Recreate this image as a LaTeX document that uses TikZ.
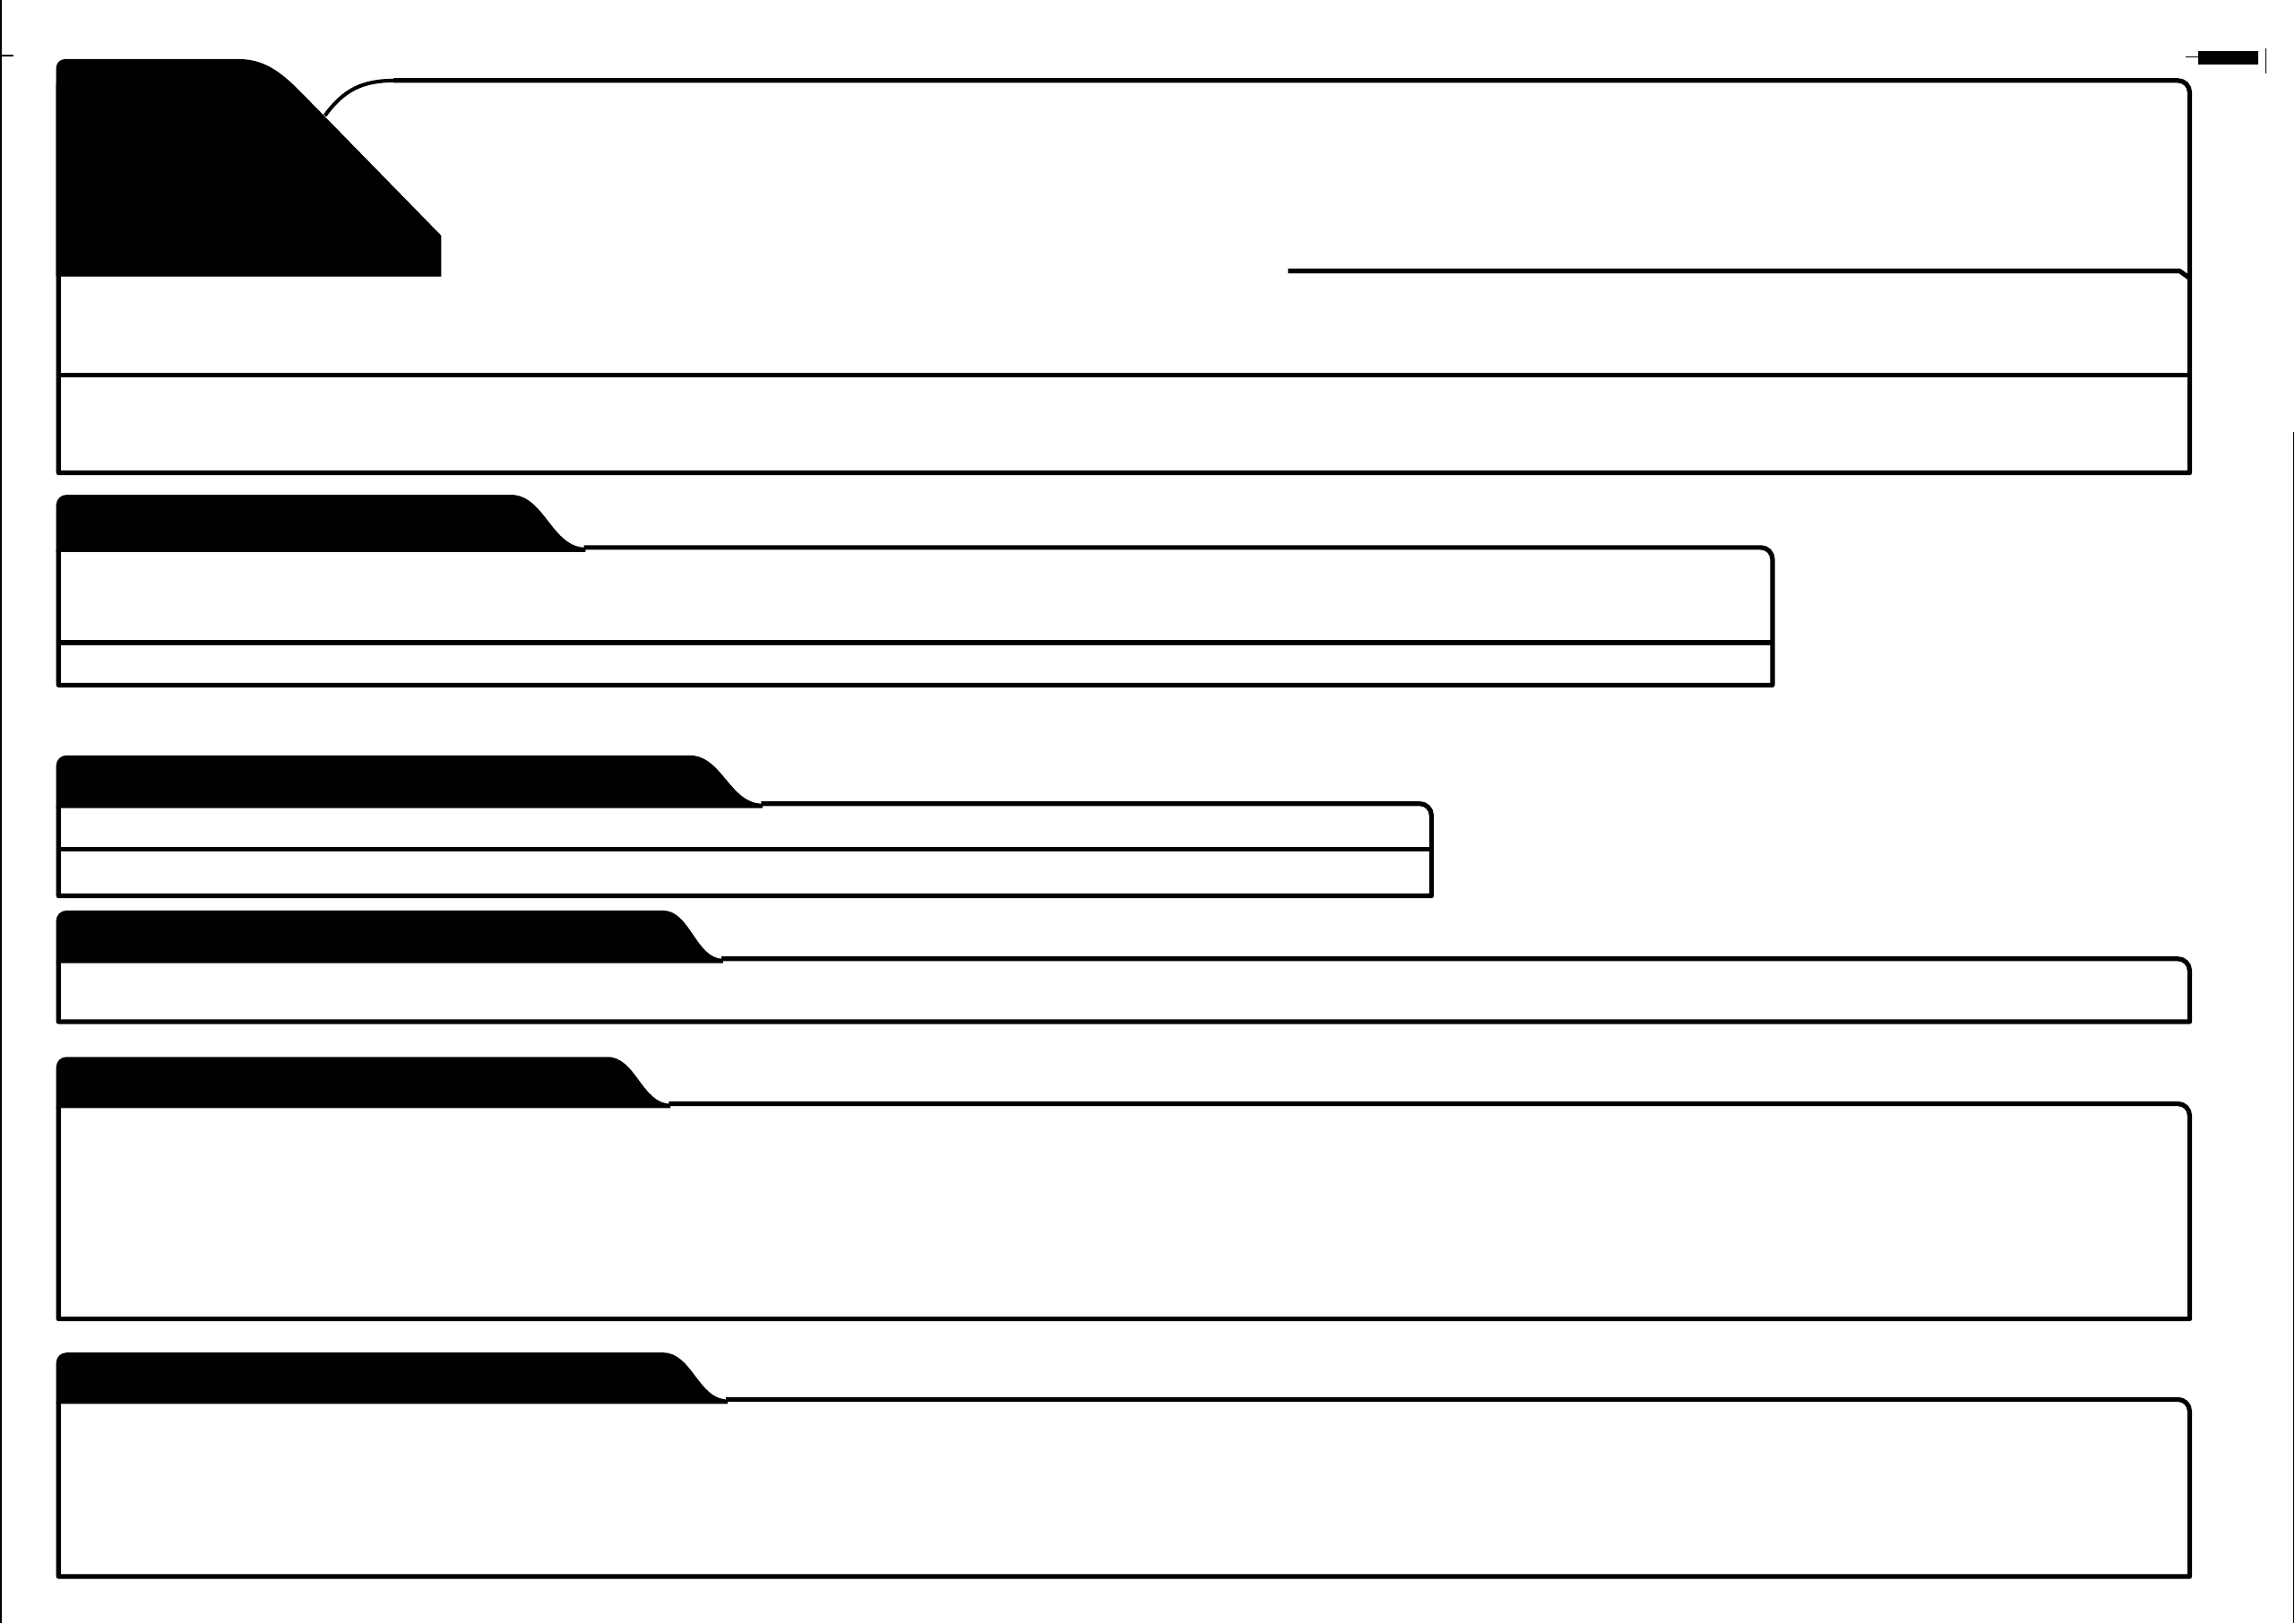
\documentclass[tikz,border=0pt]{standalone}
\newcommand{\foldertab}[4]{% #1 tab top, #2 flat end, #3 curve end, #4 box top
  \pgfmathsetmacro{\tabca}{#2+0.45*(#3-#2)}%
  \pgfmathsetmacro{\tabcb}{#3-0.45*(#3-#2)}%
  \fill[tabfill] (38.4,#4+3) -- (38.4,#1+7) arc[start angle=180,end angle=270,radius=7]
     -- (#2,#1) .. controls (\tabca,#1) and (\tabcb,#4) .. (#3,#4) -- (#3,#4+3) -- cycle;
}
\newcommand{\folderbox}[4]{% #1 curve end x, #2 box top, #3 right x, #4 bottom
  \draw[boxline] (#1,#2) -- (#3-8,#2) arc[start angle=-90,end angle=0,radius=8]
     -- (#3,#4) -- (40,#4) -- (40,#2+2);
}
\begin{document}
\begin{tikzpicture}[x=1pt,y=-1pt,line join=round,
  boxline/.style={line width=3.2pt},
  thinline/.style={line width=2.5pt},
  tabfill/.style={fill=black},
  scanmark/.style={line width=0.9pt}]
\useasboundingbox (0,0) rectangle (1568,1109);

% ---------- box 1 ----------
\fill[tabfill] (38.4,189) -- (38.4,46.4) arc[start angle=180,end angle=270,radius=6]
  -- (163.5,40.4) .. controls (182,40.4) and (194,51) .. (208,65.4)
  -- (301.5,161) -- (301.5,189) -- cycle;
\draw[thinline] (222,79) .. controls (235,61) and (248,55) .. (270,55);
\folderbox{269}{55}{1496}{323}
\draw[boxline] (880,185) -- (1489,185) -- (1496,190);
\draw[boxline] (40,256) -- (1496,256);

% ---------- box 2 ----------
\foldertab{338}{349}{400}{374}
\folderbox{399}{374}{1211}{468}
\draw[boxline] (40,439) -- (1211,439);

% ---------- box 3 ----------
\foldertab{516}{471}{521}{549}
\folderbox{520}{549}{978}{612}
\draw[boxline] (40,580) -- (978,580);

% ---------- box 4 ----------
\foldertab{622}{453}{494}{655}
\folderbox{493}{655}{1496}{698}

% ---------- box 5 ----------
\foldertab{722}{415}{458}{754}
\folderbox{457}{754}{1496}{901}

% ---------- box 6 ----------
\foldertab{924}{453}{497}{956}
\folderbox{496}{956}{1496}{1077}

% ---------- scan marks ----------
\fill (1502,35) rectangle (1543,44);
\draw[scanmark] (1493,39) -- (1502,39);
\draw[scanmark] (1548,33) -- (1548,50);
\draw[scanmark] (0.5,0) -- (0.5,1109);
\draw[scanmark] (0,38) -- (9,38);
\draw[scanmark] (1567,295) -- (1567,1109);
\end{tikzpicture}
\end{document}
